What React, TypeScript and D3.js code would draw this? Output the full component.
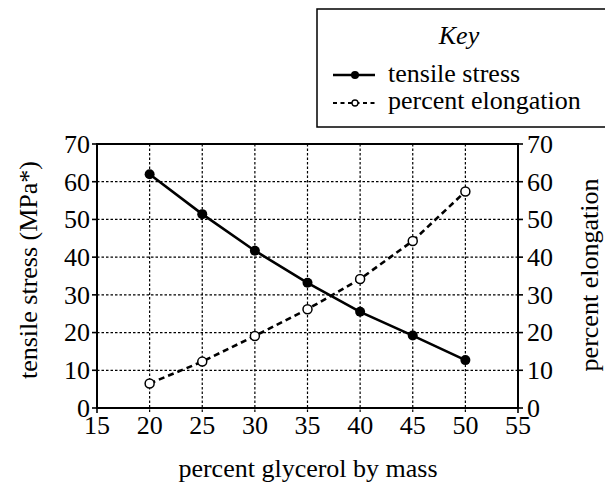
import React from "react";
import * as d3 from "d3";

const glycerol = [20, 25, 30, 35, 40, 45, 50];
const tensileStress = [62.0, 51.4, 41.7, 33.2, 25.5, 19.2, 12.7];
const percentElongation = [6.5, 12.3, 19.1, 26.2, 34.2, 44.3, 57.4];
const xTicks = [15, 20, 25, 30, 35, 40, 45, 50, 55];
const yTicks = [0, 10, 20, 30, 40, 50, 60, 70];

const W = 605;
const H = 488;
const FONT = "Liberation Serif";
const FS = 26;

export default function App() {
  const x = d3.scaleLinear().domain([15, 55]).range([97, 518]);
  const yL = d3.scaleLinear().domain([0, 70]).range([408, 144]);
  const yR = d3.scaleLinear().domain([0, 70]).range([408, 144]);

  const tsData = glycerol.map((g, i) => [g, tensileStress[i]] as [number, number]);
  const peData = glycerol.map((g, i) => [g, percentElongation[i]] as [number, number]);

  const lineL = d3.line<[number, number]>().x(d => x(d[0])).y(d => yL(d[1]));
  const lineR = d3.line<[number, number]>().x(d => x(d[0])).y(d => yR(d[1]));

  const x0 = x(15), x1 = x(55), yb = yL(0), yt = yL(70);
  const tick = 5;

  return (
    <svg width={W} height={H} style={{ position: "absolute", left: 0, top: 0, background: "#fff", fontFamily: FONT }}>
      {xTicks.filter(t => t > 15 && t < 55).map(t => (
        <line key={"gx" + t} x1={x(t)} x2={x(t)} y1={yt} y2={yb + tick}
          stroke="#000" strokeWidth={1.2} strokeDasharray="2.5,2" />
      ))}
      {yTicks.filter(t => t > 0 && t < 70).map(t => (
        <line key={"gy" + t} x1={x0} x2={x1} y1={yL(t)} y2={yL(t)}
          stroke="#000" strokeWidth={1.2} strokeDasharray="2.5,2" />
      ))}
      {yTicks.map(t => (
        <line key={"tl" + t} x1={x0 - tick} x2={x0} y1={yL(t)} y2={yL(t)} stroke="#000" strokeWidth={1.6} />
      ))}
      {yTicks.map(t => (
        <line key={"tr" + t} x1={x1} x2={x1 + tick} y1={yR(t)} y2={yR(t)} stroke="#000" strokeWidth={1.6} />
      ))}
      {[15, 55].map(t => (
        <line key={"tb" + t} x1={x(t)} x2={x(t)} y1={yb} y2={yb + tick} stroke="#000" strokeWidth={1.6} />
      ))}
      <rect x={x0} y={yt} width={x1 - x0} height={yb - yt} fill="none" stroke="#000" strokeWidth={2} />

      {yTicks.map(t => (
        <text key={"ll" + t} x={x0 - 7} y={yL(t)} dy="0.34em" textAnchor="end" fontSize={FS}>{t}</text>
      ))}
      {yTicks.map(t => (
        <text key={"rl" + t} x={x1 + 9} y={yR(t)} dy="0.34em" textAnchor="start" fontSize={FS}>{t}</text>
      ))}
      {xTicks.map(t => (
        <text key={"xl" + t} x={x(t)} y={434} textAnchor="middle" fontSize={FS}>{t}</text>
      ))}

      <text x={308} y={477} textAnchor="middle" fontSize={FS}>percent glycerol by mass</text>
      <text transform={`translate(37,${(yt + yb) / 2 - 6}) rotate(-90)`} textAnchor="middle" fontSize={FS}>tensile stress (MPa*)</text>
      <text transform={`translate(598,${(yt + yb) / 2 - 1}) rotate(-90)`} textAnchor="middle" fontSize={FS}>percent elongation</text>

      <path d={lineL(tsData) || ""} fill="none" stroke="#000" strokeWidth={2.6} />
      <path d={lineR(peData) || ""} fill="none" stroke="#000" strokeWidth={2.6} strokeDasharray="6,4" />
      {tsData.map((d, i) => (
        <circle key={"ts" + i} cx={x(d[0])} cy={yL(d[1])} r={5} fill="#000" />
      ))}
      {peData.map((d, i) => (
        <circle key={"pe" + i} cx={x(d[0])} cy={yR(d[1])} r={4.5} fill="#fff" stroke="#000" strokeWidth={1.5} />
      ))}

      <rect x={317} y={9} width={300} height={118} fill="#fff" stroke="#000" strokeWidth={1.5} />
      <text x={459} y={44} textAnchor="middle" fontSize={FS} fontStyle="italic">Key</text>
      <line x1={333} x2={375} y1={75} y2={75} stroke="#000" strokeWidth={2.6} />
      <circle cx={355} cy={75} r={4} fill="#000" />
      <text x={388} y={82} fontSize={FS}>tensile stress</text>
      <line x1={333} x2={375} y1={103} y2={103} stroke="#000" strokeWidth={2.2} strokeDasharray="4,3.5" />
      <circle cx={355} cy={103} r={3} fill="#fff" stroke="#000" strokeWidth={1.3} />
      <text x={388} y={109} fontSize={FS}>percent elongation</text>
    </svg>
  );
}
